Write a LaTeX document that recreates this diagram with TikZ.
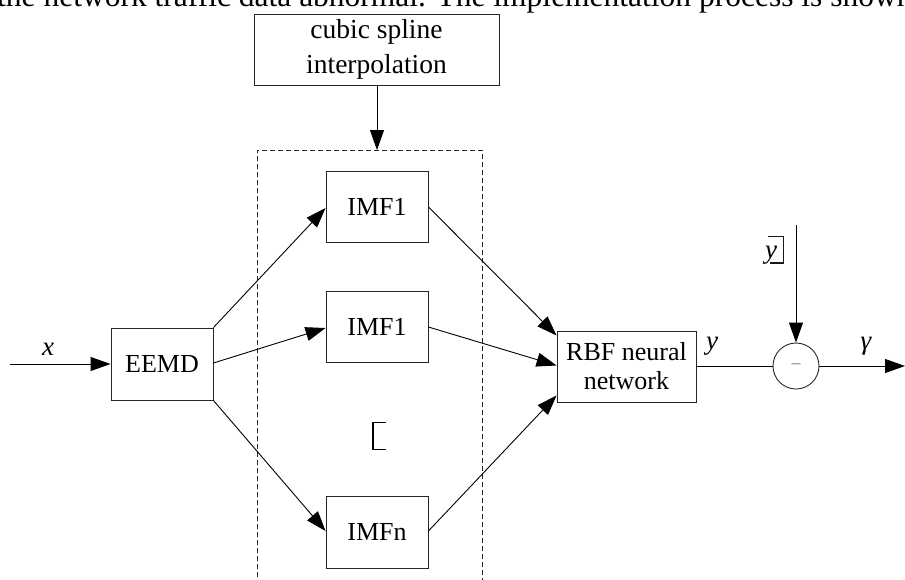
\documentclass[tikz,border=0pt]{standalone}
\usepackage{fontspec}
\setmainfont{Liberation Serif}
\usetikzlibrary{arrows.meta}
\tikzset{
  box/.style={draw=black!85, line width=0.9pt, inner sep=0pt, align=center, font=\fontsize{26}{29}\selectfont},
  conn/.style={draw=black, line width=0.9pt, -{Triangle[length=20pt,width=14pt]}},
  lbl/.style={font=\fontsize{27}{29}\selectfont\itshape, inner sep=0pt},
  dashbox/.style={draw=black!85, line width=0.9pt, dash pattern=on 5pt off 3pt},
}
\begin{document}
\begin{tikzpicture}[x=1pt,y=-1pt]
\useasboundingbox (0,0) rectangle (905,579);
\clip (0,0) rectangle (905,579);
% cropped running text at top
\node[anchor=base west, inner sep=0pt, font=\fontsize{31.5}{33}\selectfont] (toptext) at (-3,6.5) {the network traffic data abnormal. The implementation process is shown};
% boxes
\node[box, minimum width=245pt, minimum height=71pt, font=\fontsize{27.5}{35}\selectfont] (csi) at (376.5,49.5) {cubic spline\\interpolation};
\node[box, minimum width=102pt, minimum height=72pt] (eemd) at (162,364) {EEMD};
\node[box, minimum width=102pt, minimum height=71pt] (imfa) at (377,206.5) {IMF1};
\node[box, minimum width=102pt, minimum height=71pt] (imfb) at (377,326.5) {IMF1};
\node[box, minimum width=102pt, minimum height=72pt] (imfn) at (377,532) {IMFn};
\node[box, minimum width=139pt, minimum height=71pt] (rbf) at (626.5,366.5) {RBF neural\\network};
\node[draw=black!85, line width=0.9pt, circle, minimum size=46pt, inner sep=0pt, text=black!55, font=\fontsize{18}{20}\selectfont] (sum) at (796,366) {--};
% dashed region
\coordinate (dtl) at (257,150);
\coordinate (dtr) at (482,150);
\coordinate (dbl) at (257,585);
\coordinate (dbr) at (482,585);
\coordinate (dtop) at (377,150);
\draw[dashbox] (dbl) -- (dtl) -- (dtr) -- (dbr);
% coordinates for free ends
\coordinate (xin) at (10,364);
\coordinate (gout) at (905,366);
\coordinate (ytop) at (796,225);
% connectors (yshift is in canvas direction: positive = up)
\draw[conn] (csi.south -| dtop) -- (dtop);
\draw[conn] (xin) -- (eemd.west);
\draw[conn] (eemd.north east) -- ([yshift=-1.5pt]imfa.west);
\draw[conn] ([yshift=1pt]eemd.east) -- ([yshift=-1.5pt]imfb.west);
\draw[conn] (eemd.south east) -- ([yshift=1pt]imfn.west);
\draw[conn] ([yshift=-0.5pt]imfa.east) -- ([yshift=31pt]rbf.west);
\draw[conn] ([yshift=-0.5pt]imfb.east) -- ([yshift=1pt]rbf.west);
\draw[conn] ([yshift=1pt]imfn.east) -- ([yshift=-29pt]rbf.west);
\draw[draw=black, line width=0.9pt] (rbf.east |- sum) -- (sum.west);
\draw[conn] (sum.east) -- (gout);
\draw[conn] (ytop) -- (sum.north);
% labels
\node[lbl] (lx) at (48,349) {x};
\node[lbl] (ly) at (712,346) {y};
\node[lbl] (lg) at (866,346) {γ};
\node[lbl, anchor=base] (lyhat) at (771,258) {y};
% missing-glyph brackets
\draw[black!90, line width=1.6pt] (768,236.5) -- (783.5,236.5) -- (783.5,263) -- (770,263);
\draw[black, line width=1.6pt] (386,422.5) -- (373,422.5) -- (373,449.5) -- (386,449.5);
\end{tikzpicture}
\end{document}
